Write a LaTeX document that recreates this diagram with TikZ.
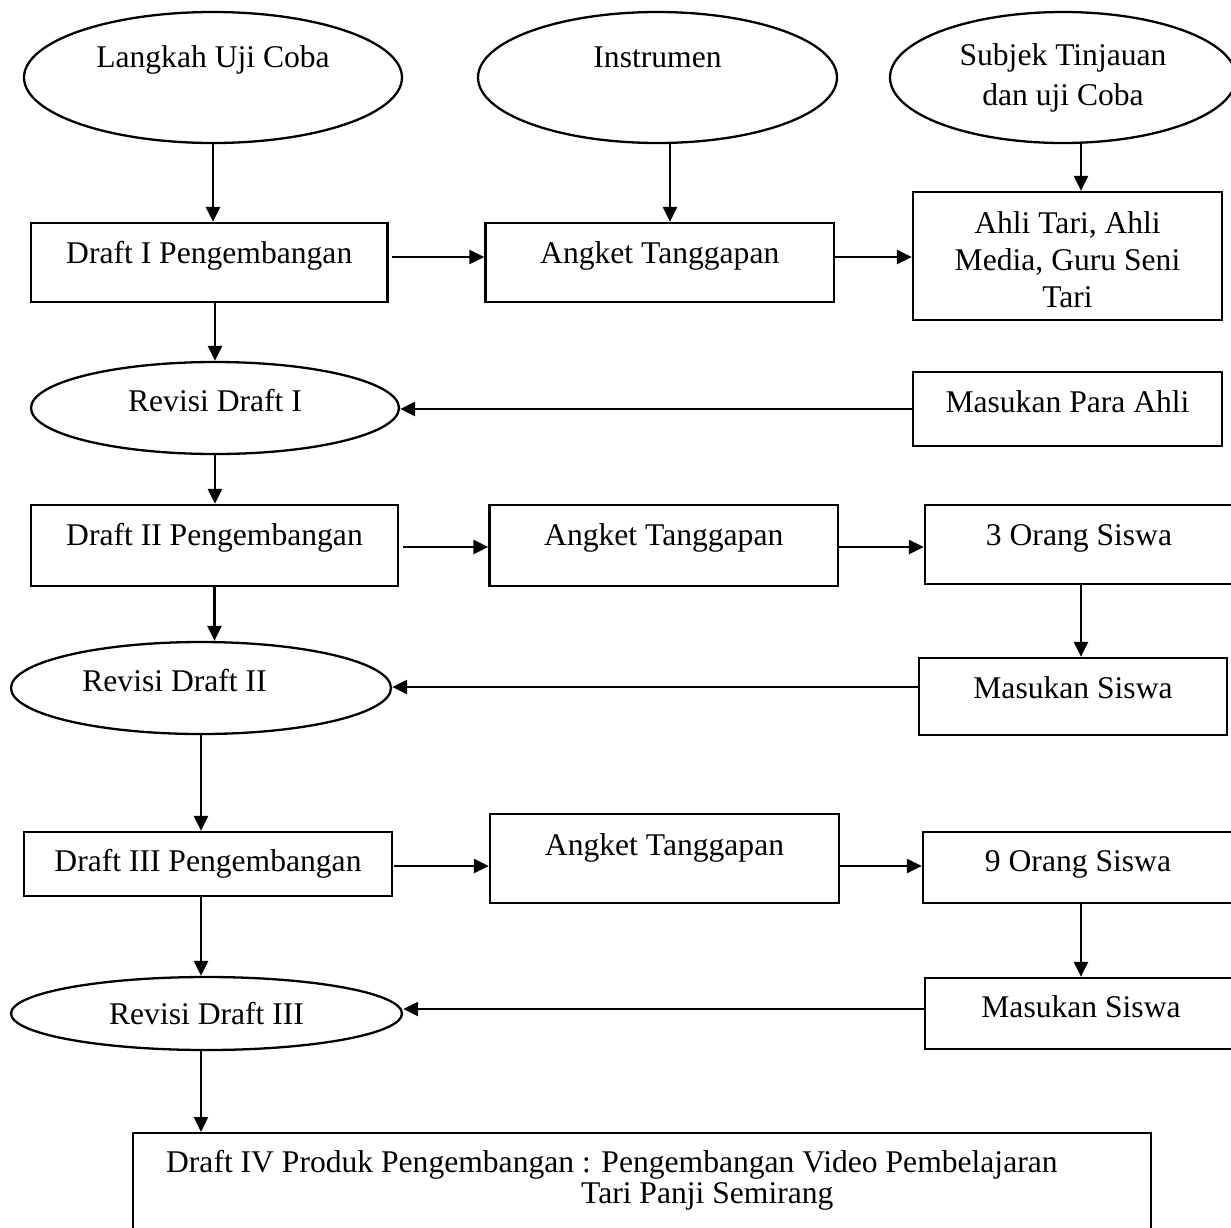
\documentclass[tikz,border=0pt]{standalone}
\usepackage{fontspec}
\setmainfont{Liberation Serif}
\usetikzlibrary{shapes.geometric,arrows.meta,calc}
\begin{document}
\begin{tikzpicture}[x=1pt,y=-1pt,
  every node/.style={font=\fontsize{31.6}{37}\selectfont},
  shp/.style={draw, line width=2.3pt, inner sep=0pt},
  box/.style={shp, rectangle},
  ell/.style={shp, ellipse},
  tb/.style={text height=22pt, text depth=#1},
  arr/.style={line width=2.3pt, -{Triangle[length=15pt,width=14pt]}}]
\useasboundingbox (0,0) rectangle (1231,1227);
\clip (0,0) rectangle (1231,1227);

% top row ellipses
\node[ell, minimum width=378pt, minimum height=131pt, tb=43pt] (E1) at (213,77.5) {Langkah Uji Coba};
\node[ell, minimum width=359pt, minimum height=131pt, tb=43pt] (E2) at (657.5,77.5) {Instrumen};
\node[ell, minimum width=346pt, minimum height=131pt, align=center] (E3) at (1063,77.5) {Subjek Tinjauan\\[3pt]dan uji Coba};

% row 1
\node[box, minimum width=356.5pt, minimum height=79pt, tb=20.4pt] (B1) at (209.25,262.5) {Draft I Pengembangan};
\node[box, minimum width=348.5pt, minimum height=79pt, tb=21pt] (A1) at (659.75,262.5) {Angket Tanggapan};
\node[box, minimum width=309pt, minimum height=128pt, align=center] (C1) at (1067.5,256) {\rule{0pt}{29.6pt}Ahli Tari, Ahli\\Media, Guru Seni\\Tari};

\node[ell, minimum width=368pt, minimum height=92pt, tb=14.6pt] (E4) at (215,408) {Revisi Draft I};
\node[box, minimum width=309pt, minimum height=74pt, tb=16pt] (M1) at (1067.5,409) {Masukan Para Ahli};

% row 2
\node[box, minimum width=367pt, minimum height=81pt, tb=23pt] (B2) at (214.5,545.5) {Draft II Pengembangan};
\node[box, minimum width=348.5pt, minimum height=81pt, tb=23pt] (A2) at (663.75,545.5) {Angket Tanggapan};
\node[box, minimum width=308pt, minimum height=79pt, tb=21pt] (C2) at (1079,544.5) {3 Orang Siswa};

\node[ell, minimum width=380pt, minimum height=92pt, tb=14.6pt] (E5) at (201,688) {Revisi Draft II\hspace*{53pt}};
\node[box, minimum width=308pt, minimum height=77pt, tb=19pt] (M2) at (1073,696.5) {Masukan Siswa};

% row 3
\node[box, minimum width=368pt, minimum height=64pt, tb=6.6pt] (B3) at (208,864) {Draft III Pengembangan};
\node[box, minimum width=349pt, minimum height=89pt, tb=29pt] (A3) at (664.5,858.5) {Angket Tanggapan};
\node[box, minimum width=310pt, minimum height=71pt, tb=14pt] (C3) at (1078,867.5) {9 Orang Siswa};

\node[ell, minimum width=391pt, minimum height=73pt, tb=0pt] (E6) at (206.5,1013.5) {Revisi Draft III};
\node[box, minimum width=312pt, minimum height=71pt, tb=15pt] (M3) at (1081,1013.5) {Masukan Siswa};

% final
\node[box, anchor=north west] (D4) at (132,1132) {\parbox[c][110pt][t]{1018pt}{\fontsize{31.6}{31}\selectfont\raggedright\rule{0pt}{39pt}\hspace*{33pt}Draft IV Produk Pengembangan : Pengembangan Video Pembelajaran\par\hspace*{448pt}Tari Panji Semirang}};

% helper rows
\coordinate (y1) at (0,257);
\coordinate (y2) at (0,547);
\coordinate (y3) at (0,687);
\coordinate (y4) at (0,866);
\coordinate (y5) at (0,1009);

% connectors
\draw[arr] (E1.south) -- (E1.south |- B1.north);
\draw[arr] ($(E2.south)+(12.5,0)$) -- ($(E2.south |- A1.north)+(12.5,0)$);
\draw[arr] ($(E3.south)+(18,0)$) -- ($(E3.south |- C1.north)+(18,0)$);
\draw[arr] ($(B1.east |- y1)+(3.5,0)$) -- (A1.west |- y1);
\draw[arr] (A1.east |- y1) -- (C1.west |- y1);
\draw[arr] (B1.south -| E4.north) -- (E4.north);
\draw[arr] (M1.west) -- (M1.west -| E4.east);
\draw[arr] (E4.south) -- (E4.south |- B2.north);
\draw[arr] ($(B2.east |- y2)+(4,0)$) -- (A2.west |- y2);
\draw[arr] (A2.east |- y2) -- (C2.west |- y2);
\draw[arr] (B2.south) -- (B2.south |- E5.north);
\draw[arr] ($(C2.south)+(2,0)$) -- ($(C2.south |- M2.north)+(2,0)$);
\draw[arr] (M2.west |- y3) -- (E5.east |- y3);
\draw[arr] (E5.south) -- (E5.south |- B3.north);
\draw[arr] ($(B3.east |- y4)+(1,0)$) -- (A3.west |- y4);
\draw[arr] (A3.east |- y4) -- (C3.west |- y4);
\draw[arr] ($(B3.south)+(-7,0)$) -- ($(B3.south |- E6.north)+(-7,0)$);
\draw[arr] (C3.south -| M3.north) -- (M3.north);
\draw[arr] (M3.west |- y5) -- (E6.east |- y5);
\draw[arr] ($(E6.south)+(-5.5,0)$) -- ($(E6.south |- D4.north)+(-5.5,0)$);
\end{tikzpicture}
\end{document}
